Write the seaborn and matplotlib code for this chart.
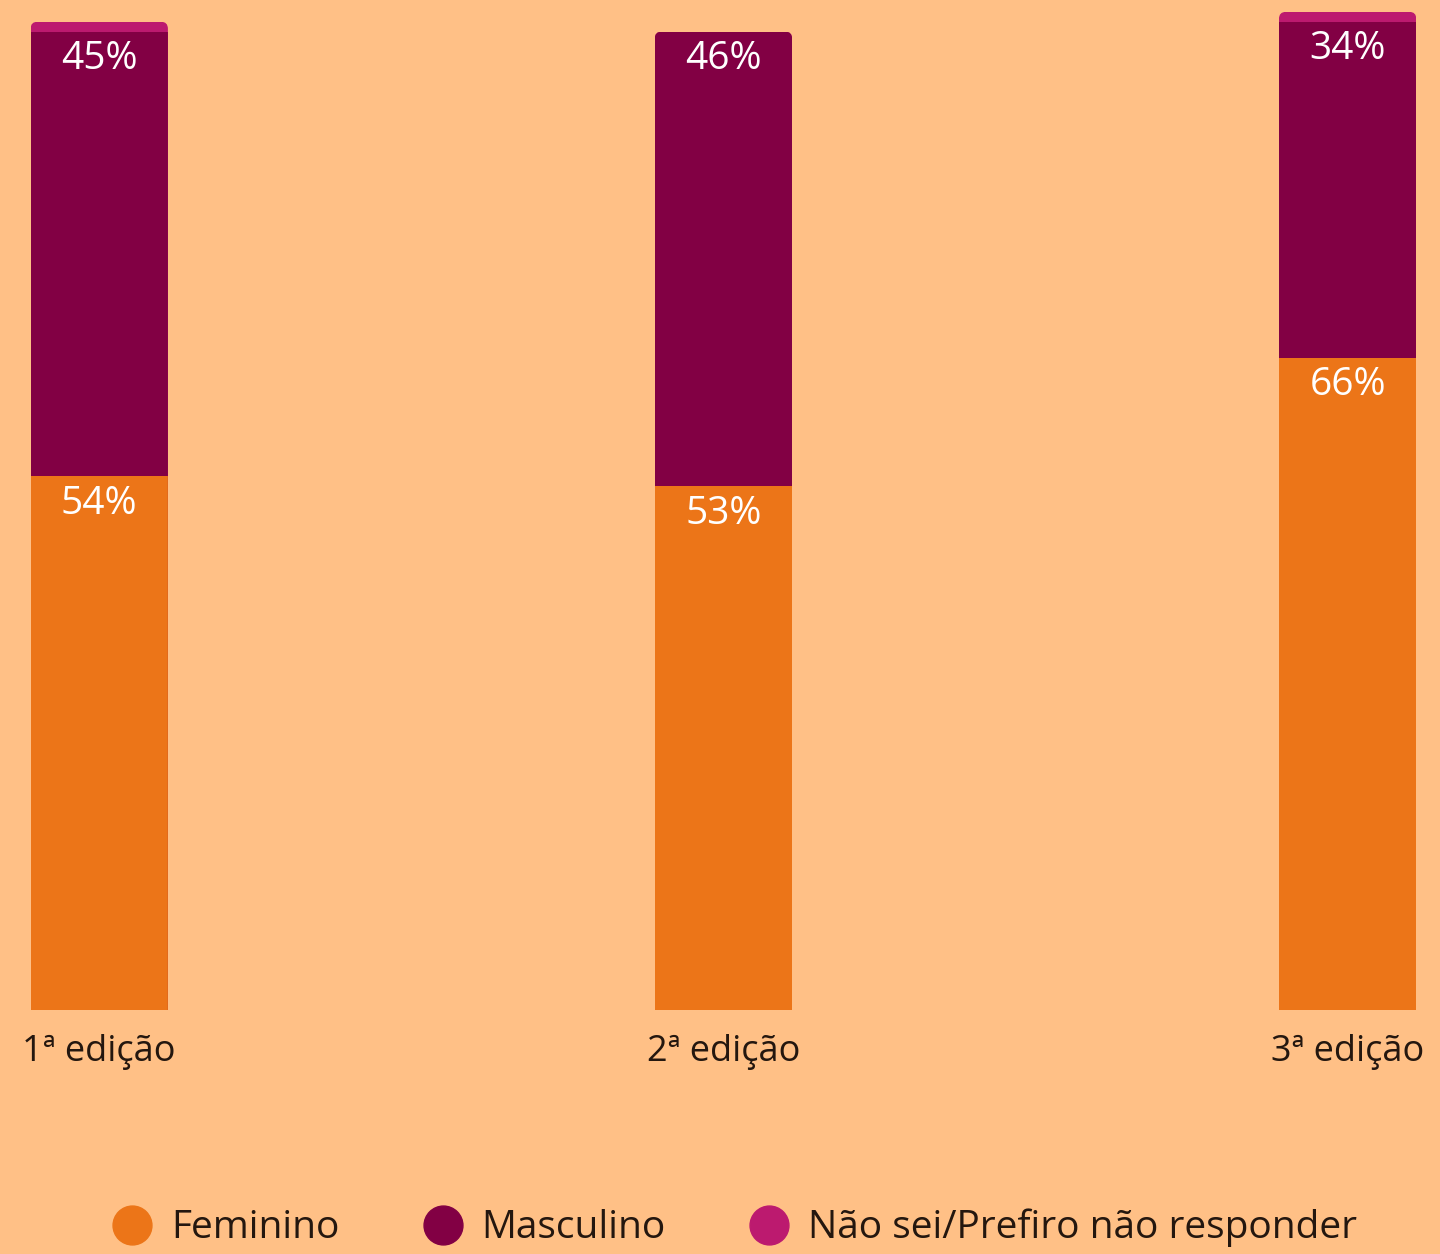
import matplotlib
matplotlib.use("Agg")
import matplotlib.pyplot as plt
from matplotlib.lines import Line2D
from matplotlib.patches import FancyBboxPatch
import seaborn as sns
import pandas as pd
import numpy as np

categories = ["1ª edição", "2ª edição", "3ª edição"]
feminino = [54, 53, 66]
masculino = [45, 46, 34]
nao_sei = [1, 0, 1]
series_names = ["Feminino", "Masculino", "Não sei/Prefiro não responder"]

BG = "#FFC086"
C_FEM = "#EC7518"
C_MASC = "#820044"
C_NS = "#BC1A6F"
TXT = "#24170F"

sns.set_theme(style="white")
plt.rcParams["font.family"] = ["Open Sans", "DejaVu Sans"]

df = pd.DataFrame({"cat": categories, "fem": feminino, "masc": masculino, "ns": nao_sei})
df["fm"] = df["fem"] + df["masc"]
df["tot"] = df["fm"] + df["ns"]

fig = plt.figure(figsize=(14.4, 12.54), dpi=100, facecolor=BG)
ax = fig.add_axes([0, (1254 - 1010) / 1254, 1, 1010 / 1254])
ax.set_facecolor(BG)

w = 0.22
sns.barplot(data=df, x="cat", y="tot", color=C_NS, saturation=1, width=w, ax=ax, linewidth=0)
sns.barplot(data=df, x="cat", y="fm", color=C_MASC, saturation=1, width=w, ax=ax, linewidth=0)
sns.barplot(data=df, x="cat", y="fem", color=C_FEM, saturation=1, width=w, ax=ax, linewidth=0)

ax.set_xlim(-0.159, 2.148)
ax.set_ylim(0, 102.2)

# rounded top corners via clip paths
px_x = 1440 / (2.148 + 0.159)
px_y = 1010 / 102.2
r_px = 7
clips = []
for i, row in df.iterrows():
    cp = FancyBboxPatch((i - w / 2, -10), w, row["tot"] + 10,
                        boxstyle=f"round,pad=0,rounding_size={r_px / px_x}",
                        mutation_aspect=px_x / px_y, transform=ax.transData)
    clips.append(cp)
for p in ax.patches:
    xc = p.get_x() + p.get_width() / 2
    idx = int(round(xc))
    p.set_clip_path(clips[idx])

for i, row in df.iterrows():
    ax.text(i, row["fem"] - 2.8, f"{row['fem']}%", ha="center", va="center",
            color="white", fontsize=28)
    ax.text(i, row["fm"] - 2.8, f"{row['masc']}%", ha="center", va="center",
            color="white", fontsize=28)

ax.set_xlabel("")
ax.set_ylabel("")
ax.set_yticks([])
ax.tick_params(axis="x", length=0, pad=17, labelsize=26, labelcolor=TXT)
for s in ax.spines.values():
    s.set_visible(False)

handles = [Line2D([0], [0], marker="o", color="none", markerfacecolor=c, markeredgecolor=c,
                  markersize=28) for c in [C_FEM, C_MASC, C_NS]]
fig.legend(handles, series_names, loc="center", bbox_to_anchor=(733 / 1440, 1 - 1228 / 1254),
           ncol=3, frameon=False, fontsize=28, labelcolor=TXT, handletextpad=0.4,
           columnspacing=2.05, handlelength=1.2)

fig.savefig("out.png", dpi=100, facecolor=BG)
